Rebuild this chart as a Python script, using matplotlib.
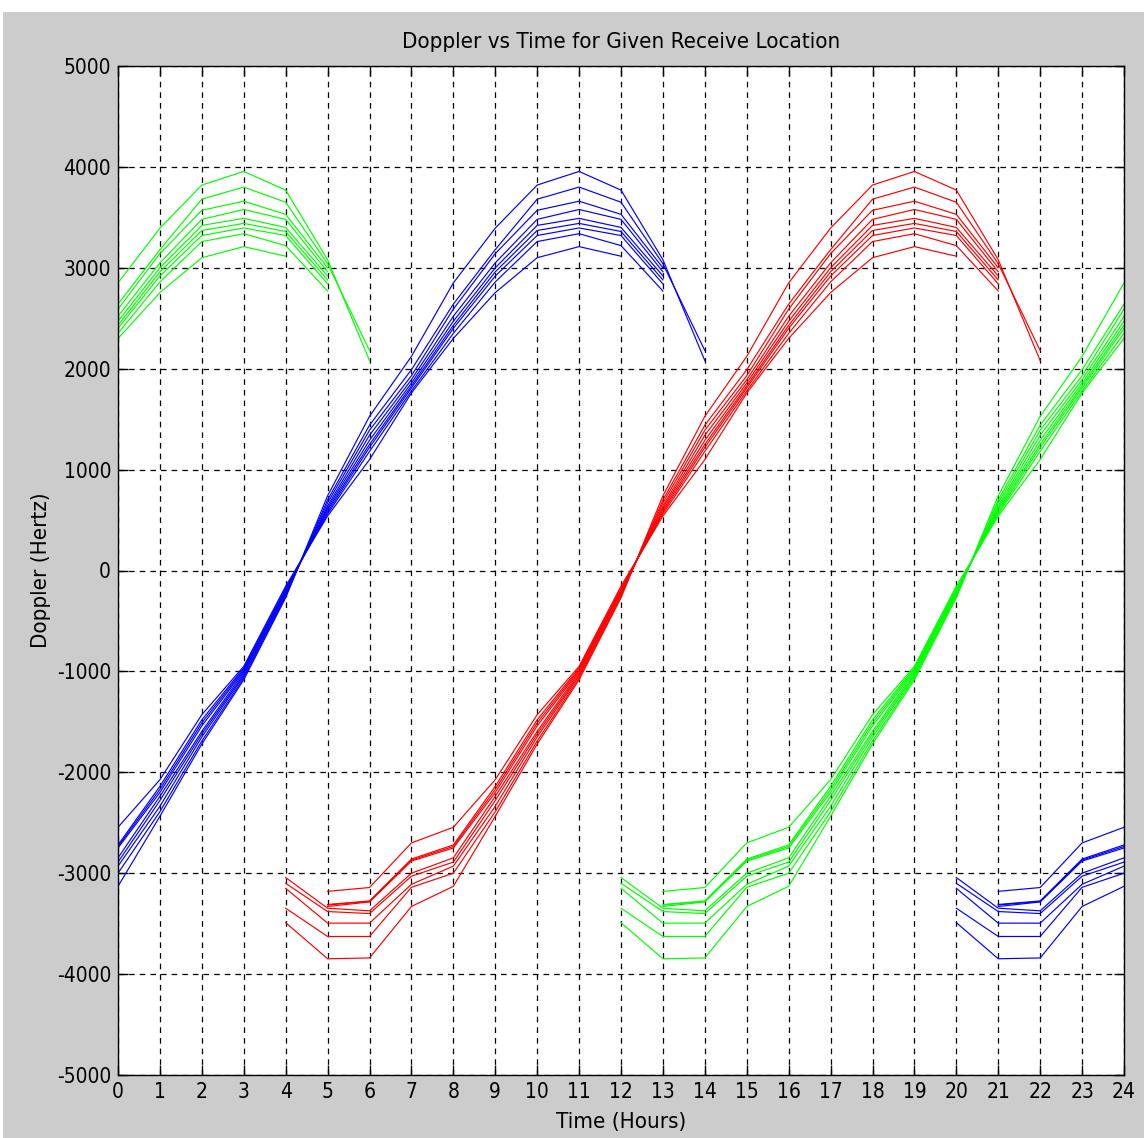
import numpy as np
import matplotlib.pyplot as plt
from matplotlib.patches import Rectangle

plt.rcParams['font.family'] = ['DejaVu Sans']
plt.rcParams['font.stretch'] = 'condensed'
plt.rcParams['axes.unicode_minus'] = False

nan = np.nan

# hours since each satellite group's pass began
hours_into_pass = np.arange(19)

# Doppler (Hz) per satellite at each hour of the pass, largest swing first
sat_1 = [-3490, -3848, -3840, -3330, -3130, -2436, -1720, -1083, -270, 740, 1528, 2122, 2850, 3393, 3820, 3955, 3770, 3080, 2080]
sat_2 = [-3347, -3627, -3627, -3140, -3000, -2390, -1690, -1065, -255, 700, 1440, 1990, 2640, 3180, 3680, 3800, 3650, 3040, 2180]
sat_3 = [-3150, -3495, -3495, -3110, -2930, -2337, -1650, -1045, -240, 670, 1390, 1930, 2590, 3140, 3570, 3660, 3530, 3000, nan]
sat_4 = [-3100, -3380, -3400, -3030, -2890, -2280, -1620, -1030, -225, 640, 1340, 1891, 2520, 3049, 3480, 3578, 3480, 2960, nan]
sat_5 = [-3043, -3347, -3373, -3000, -2848, -2238, -1594, -1010, -210, 620, 1290, 1858, 2470, 3000, 3420, 3490, 3400, 2920, nan]
sat_6 = [nan, -3330, -3285, -2880, -2750, -2200, -1540, -995, -200, 600, 1250, 1830, 2430, 2960, 3370, 3440, 3360, 2880, nan]
sat_7 = [nan, -3315, -3280, -2870, -2735, -2170, -1510, -980, -190, 580, 1220, 1809, 2400, 2918, 3320, 3395, 3320, 2840, nan]
sat_8 = [nan, -3310, -3275, -2860, -2720, -2139, -1480, -965, -175, 560, 1180, 1780, 2350, 2860, 3260, 3338, 3220, 2770, nan]
sat_9 = [nan, -3180, -3142, -2700, -2545, -2073, -1429, -950, -155, 540, 1099, 1759, 2300, 2754, 3100, 3210, 3115, nan, nan]
satellites = [sat_1, sat_2, sat_3, sat_4, sat_5, sat_6, sat_7, sat_8, sat_9]

# hour of day each group's pass starts, and its colour
group_colors = ['#0000ff', '#ff0000', '#00ff00']
group_start = [20, 4, 12]

fig = plt.figure(figsize=(11.44, 11.38), dpi=100, facecolor='white')
fig.patches.append(Rectangle((3 / 1144, 0), 1, 1 - 12 / 1138, transform=fig.transFigure,
                             facecolor='#cccccc', edgecolor='none', zorder=-10))
ax = fig.add_axes([118 / 1144, 1 - 1075 / 1138, (1124 - 118) / 1144, (1075 - 66) / 1138])
ax.set_facecolor('white')

# each pass runs past midnight, so draw it again one day earlier
for color, start in zip(group_colors, group_start):
    for sat in satellites:
        x = start + hours_into_pass
        ax.plot(x, sat, color=color, lw=0.85)
        ax.plot(x - 24, sat, color=color, lw=0.85)

ax.set_xlim(0, 24)
ax.set_ylim(-5000, 5000)
ax.set_xticks(range(0, 25))
ax.set_yticks(range(-5000, 5001, 1000))
ax.grid(True, color='black', linestyle=(0, (4.5, 4)), lw=0.9)
ax.set_axisbelow(True)
ax.tick_params(direction='in', top=True, right=True, length=7, width=1, labelsize=15, pad=5)
for s in ax.spines.values():
    s.set_linewidth(1.0)

ax.set_title('Doppler vs Time for Given Receive Location', fontsize=16, pad=13)
ax.set_xlabel('Time (Hours)', fontsize=16, labelpad=7)
ax.set_ylabel('Doppler (Hertz)', fontsize=16, labelpad=4)

plt.savefig('out.png', dpi=100, facecolor=fig.get_facecolor())
